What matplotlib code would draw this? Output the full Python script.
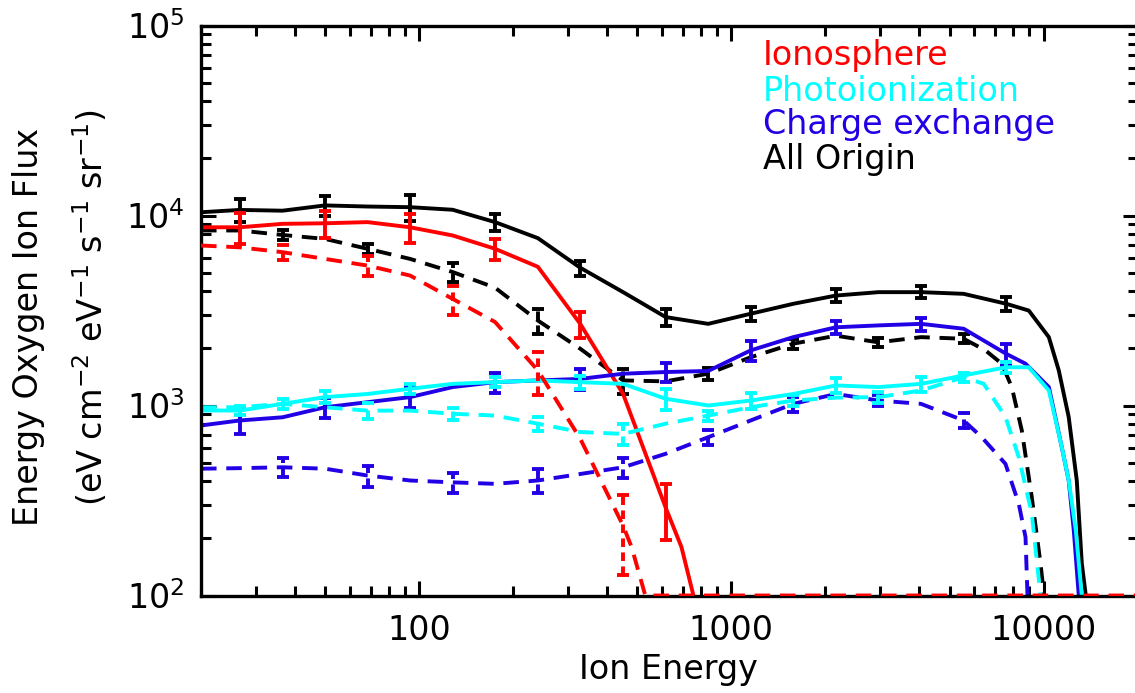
import matplotlib
matplotlib.use("Agg")
import matplotlib.pyplot as plt
from matplotlib.ticker import LogLocator, FixedLocator, FixedFormatter, NullFormatter

# ---------------- data ----------------
energy_bins = [26.6, 36.5, 49.9, 68.3, 93.5, 128, 175, 240, 328, 450, 616, 843,
               1153, 1579, 2162, 2960, 4052, 5548, 7595, 10400, 14230]
edge_energy = 20.0

# All Origin, solid
black_solid_edge = 10400
black_solid_bins = [10700, 10600, 11300, 11150, 11060, 10720, 9230, 7600, 5310, 3950,
                    2920, 2690, 3040, 3430, 3790, 3950, 3950, 3870, 3430]
black_solid_tail_E = [8970, 10400, 11190, 12040, 12780, 13260, 13660]
black_solid_tail = [3160, 2290, 1530, 870, 403, 148, 100]
black_solid_err = [1500, 1350, 1700, 900, 480, 310, 245, 300, 290, 280]

# All Origin, dashed
black_dash_edge = 8340
black_dash_bins = [8340, 7900, 7530, 6680, 5910, 5040, 4170, 2800, 1990, 1355,
                   1340, 1470, 1795, 2115, 2330, 2150, 2290, 2245]
black_dash_tail_E = [6515, 7348, 7912, 8519, 9170, 9780, 10040]
black_dash_tail = [1950, 1660, 1250, 739, 329, 147, 100]
black_dash_err = [500, 420, 570, 420, 200, 110, 130, 120, 120]

# Ionosphere, solid
red_solid_edge = 8670
red_solid_bins = [8670, 9040, 9100, 9230, 8670, 7850, 6680, 5370, 2690, 1150, 290]
red_solid_tail_E = [692, 756]
red_solid_tail = [180, 100]
red_solid_err = [1600, 1450, 1500, 880, 430, 95]

# Ionosphere, dashed
red_dash_edge = 6950
red_dash_bins = [6800, 6410, 5910, 5450, 4830, 3640, 2750, 1530, 669, 233]
red_dash_tail_E = [479, 530, 20000]
red_dash_tail = [180, 100, 100]
red_dash_err = [600, 660, 640, 390, 105]

# Photoionization, solid
cyan_solid_edge = 942
cyan_solid_bins = [940, 1020, 1107, 1150, 1225, 1300, 1327, 1355, 1327, 1300, 1085,
                   1000, 1062, 1150, 1275, 1250, 1300, 1440, 1590]
cyan_solid_tail_E = [8970, 10400, 11440, 12040, 12690, 13260]
cyan_solid_tail = [1590, 1200, 604, 403, 220, 100]
cyan_solid_err = [50, 78, 75, 80, 107, 140, 105, 115, 118, 100]

# Photoionization, dashed
cyan_dash_edge = 979
cyan_dash_bins = [979, 1020, 979, 940, 940, 905, 885, 802, 725, 709, 802, 885,
                  979, 1062, 1100, 1107, 1200, 1410]
cyan_dash_tail_E = [6435, 7552, 8330, 9170, 9780]
cyan_dash_tail = [1300, 870, 535, 270, 100]
cyan_dash_err = [60, 88, 70, 72, 86, 55, 70, 70, 80]

# Charge exchange, solid
blue_solid_edge = 785
blue_solid_bins = [834, 867, 979, 1041, 1107, 1250, 1327, 1355, 1380, 1470, 1500,
                   1520, 1950, 2290, 2580, 2640, 2690, 2535, 1870]
blue_solid_tail_E = [8755, 10400, 11440, 12040, 12500, 12970]
blue_solid_tail = [1660, 1250, 604, 403, 220, 100]
blue_solid_err = [125, 115, 140, 160, 180, 165, 235, 210, 210, 230]

# Charge exchange, dashed
blue_dash_edge = 465
blue_dash_bins = [468, 473, 465, 428, 403, 394, 387, 403, 436, 473, 557, 681,
                  834, 1020, 1150, 1062, 1020, 834]
blue_dash_tail_E = [6340, 7552, 8330, 8755, 8885]
blue_dash_tail = [681, 493, 304, 203, 100]
blue_dash_err = [55, 55, 48, 58, 56, 62, 95, 70, 75]

legend_labels = ["Ionosphere", "Photoionization", "Charge exchange", "All Origin"]
x_tick_values = [100, 1000, 10000]
x_tick_labels = ["100", "1000", "10000"]

# ---------------- style ----------------
RED = "#FF0000"
CYAN = "#00FFFF"
BLUE = "#2200E6"
BLACK = "#000000"
LW = 2.8
DASH = (0, (4.0, 2.5))

W, H = 1135, 693
fig = plt.figure(figsize=(W / 100, H / 100), dpi=100)
ax_l, ax_r, ax_t, ax_b = 201, 1137.5, 25.5, 595.5
ax = fig.add_axes([ax_l / W, 1 - ax_b / H, (ax_r - ax_l) / W, (ax_b - ax_t) / H])
ax.set_xscale("log")
ax.set_yscale("log")
ax.set_xlim(20, 20000)
ax.set_ylim(100, 1e5)


def draw(edge, bins, tail_E, tail, err, err_start, color, dashed, z):
    n = len(bins)
    xs = [edge_energy] + energy_bins[:n] + tail_E
    ys = [edge] + bins + tail
    ls = DASH if dashed else "-"
    ax.plot(xs, ys, color=color, lw=LW, ls=ls, zorder=z,
            solid_joinstyle="round", dash_capstyle="butt", clip_on=True)
    idx = list(range(err_start, n, 2))[:len(err)]
    ex = [energy_bins[i] for i in idx]
    ey = [bins[i] for i in idx]
    eb = ax.errorbar(ex, ey, yerr=err[:len(idx)], fmt="none", ecolor=color,
                     elinewidth=LW, capsize=4.5, capthick=LW, zorder=z)
    if dashed:
        for lc in eb[2]:
            lc.set_linestyle((0, (2.2, 1.4)))


draw(black_dash_edge, black_dash_bins, black_dash_tail_E, black_dash_tail,
     black_dash_err, 1, BLACK, True, 2.0)
draw(black_solid_edge, black_solid_bins, black_solid_tail_E, black_solid_tail,
     black_solid_err, 0, BLACK, False, 2.1)
draw(red_dash_edge, red_dash_bins, red_dash_tail_E, red_dash_tail,
     red_dash_err, 1, RED, True, 2.95)
draw(red_solid_edge, red_solid_bins, red_solid_tail_E, red_solid_tail,
     red_solid_err, 0, RED, False, 2.3)
draw(blue_dash_edge, blue_dash_bins, blue_dash_tail_E, blue_dash_tail,
     blue_dash_err, 1, BLUE, True, 2.4)
draw(blue_solid_edge, blue_solid_bins, blue_solid_tail_E, blue_solid_tail,
     blue_solid_err, 0, BLUE, False, 2.5)
draw(cyan_dash_edge, cyan_dash_bins, cyan_dash_tail_E, cyan_dash_tail,
     cyan_dash_err, 1, CYAN, True, 2.6)
draw(cyan_solid_edge, cyan_solid_bins, cyan_solid_tail_E, cyan_solid_tail,
     cyan_solid_err, 0, CYAN, False, 2.7)

# ---------------- axes styling ----------------
for sp in ax.spines.values():
    sp.set_linewidth(2.4)
    sp.set_zorder(2.9)

ax.xaxis.set_major_locator(FixedLocator(x_tick_values))
ax.xaxis.set_major_formatter(FixedFormatter(x_tick_labels))
ax.xaxis.set_minor_locator(LogLocator(base=10, subs=range(2, 10), numticks=20))
ax.xaxis.set_minor_formatter(NullFormatter())
ax.yaxis.set_major_locator(LogLocator(base=10, numticks=10))
ax.yaxis.set_minor_locator(LogLocator(base=10, subs=range(2, 10), numticks=20))
ax.yaxis.set_minor_formatter(NullFormatter())

ax.tick_params(which="both", direction="in", top=True, right=True, width=2.2,
               labelsize=24)
ax.tick_params(which="major", length=11)
ax.tick_params(which="minor", length=7)
ax.tick_params(axis="x", which="major", pad=13)
ax.tick_params(axis="y", which="major", pad=12)

# ---------------- texts ----------------
FS = 24
fig.text(668 / W, 1 - 679 / H, "Ion Energy", ha="center", va="baseline", fontsize=24)
fig.text(29 / W, 1 - 327 / H, "Energy Oxygen Ion Flux", rotation=90,
         ha="center", va="center", fontsize=FS)
fig.text(91 / W, 1 - 308 / H,
         r"(eV cm$^{-2}$ eV$^{-1}$ s$^{-1}$ sr$^{-1}$)", rotation=90,
         ha="center", va="center", fontsize=FS)

legend_colors = [RED, CYAN, BLUE, BLACK]
legend_baselines = [65, 101, 134, 169]
for lab, col, yb in zip(legend_labels, legend_colors, legend_baselines):
    fig.text(763 / W, 1 - yb / H, lab, color=col, ha="left", va="baseline",
             fontsize=FS)

fig.savefig("out.png", dpi=100)
